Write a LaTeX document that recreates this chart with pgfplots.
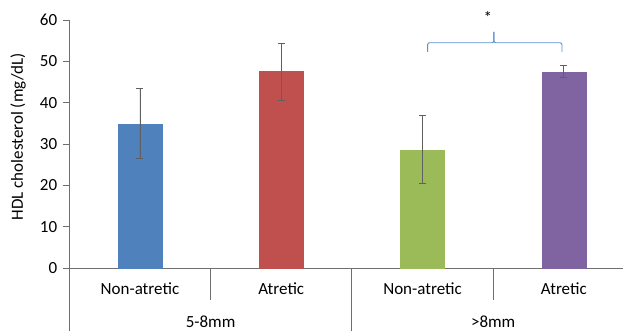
\documentclass[border=0pt]{standalone}
\usepackage{pgfplots}
\pgfplotsset{compat=1.18}
\usepackage{fontspec}
\setmainfont{Carlito}
\definecolor{cblue}{HTML}{4F81BD}
\definecolor{cred}{HTML}{C0504D}
\definecolor{cgreen}{HTML}{9BBB59}
\definecolor{cpurple}{HTML}{8064A2}
\definecolor{errgray}{HTML}{606060}
\definecolor{axgray}{HTML}{6F6F6F}
\definecolor{brace}{HTML}{5B8FD0}
\begin{document}
\fontsize{17}{20}\selectfont
\begin{tikzpicture}
\path[use as bounding box] (-69pt,-63pt) rectangle (554pt,268pt);
\begin{axis}[
  at={(0,0)}, anchor=south west,
  x=141.3pt, y=4.1333pt,
  xmin=-0.502, xmax=3.419, ymin=0, ymax=60,
  axis lines*=left,
  axis line style={axgray, line width=0.8pt},
  ytick={0,10,...,60},
  xtick=\empty,
  y tick style={axgray, line width=0.8pt},
  tick align=outside,
  major tick length=6pt,
  yticklabel style={font=\fontsize{17}{20}\selectfont, text=black},
  /pgf/number format/assume math mode=true,
  clip=false,
  error bars/y dir=both, error bars/y explicit,
  error bars/error bar style={errgray, line width=0.8pt},
  error bars/error mark options={rotate=90, mark size=3.5pt, errgray, line width=0.8pt},
]
\addplot[ybar, bar shift=0pt, bar width=44pt, fill=cblue, draw=cblue] coordinates {(0,34.9) +- (0,8.5)};
\addplot[ybar, bar shift=0pt, bar width=44pt, fill=cred, draw=cred] coordinates {(1,47.5) +- (0,6.9)};
\addplot[ybar, bar shift=0pt, bar width=44pt, fill=cgreen, draw=cgreen] coordinates {(2,28.6) +- (0,8.2)};
\addplot[ybar, bar shift=0pt, bar width=44pt, fill=cpurple, draw=cpurple] coordinates {(3,47.45) +- (0,1.45)};

% category separators
\draw[axgray, line width=0.8pt] (axis cs:0.5,0) -- ([yshift=-32pt]axis cs:0.5,0);
\draw[axgray, line width=0.8pt] (axis cs:2.5,0) -- ([yshift=-32pt]axis cs:2.5,0);
\draw[axgray, line width=0.8pt] (axis cs:1.5,0) -- ([yshift=-63pt]axis cs:1.5,0);
\draw[axgray, line width=0.8pt] (axis cs:-0.502,0) -- ([yshift=-63pt]axis cs:-0.502,0);

% category labels
\node at ([yshift=-21pt]axis cs:0,0) {Non-atretic};
\node at ([yshift=-21pt]axis cs:1,0) {Atretic};
\node at ([yshift=-21pt]axis cs:2,0) {Non-atretic};
\node at ([yshift=-21pt]axis cs:3,0) {Atretic};
\node at ([yshift=-54pt]axis cs:0.5,0) {5-8mm};
\node at ([yshift=-54pt]axis cs:2.5,0) {>8mm};

% y label
\node[rotate=90] at ([xshift=-51pt]axis cs:-0.502,31.8) {HDL cholesterol (mg/dL)};

% brace
\draw[brace, line width=0.9pt, rounded corners=2pt]
  (axis cs:2.036,52.3) -- (axis cs:2.036,54.5) -- (axis cs:2.505,54.5) -- (axis cs:2.505,57.1);
\draw[brace, line width=0.9pt, rounded corners=2pt]
  (axis cs:2.987,52.3) -- (axis cs:2.987,54.5) -- (axis cs:2.505,54.5) -- (axis cs:2.505,57.1);
\node at (axis cs:2.463,60.6) {*};
\end{axis}
\end{tikzpicture}
\end{document}
